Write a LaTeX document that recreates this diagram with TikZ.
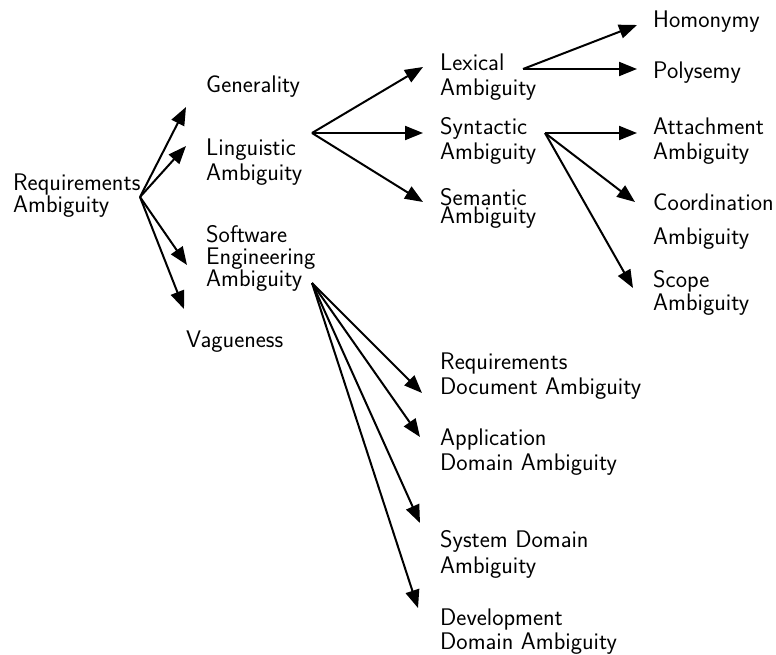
\documentclass[tikz,border=0pt]{standalone}
\usetikzlibrary{arrows.meta}
\begin{document}
\begin{tikzpicture}[x=1pt,y=-1pt,
  lbl/.style={anchor=north west,inner sep=0pt,align=left,font=\sffamily\fontsize{24}{25}\selectfont},
  arr/.style={line width=2pt,-{Triangle[length=18pt,width=14pt]}}]
\useasboundingbox (0,0) rectangle (776,655);
\def\off{9.5}
% nodes
\node[lbl,font=\sffamily\fontsize{24}{21}\selectfont] (root) at (13,183-\off) {Requirements\\Ambiguity};
\node[lbl] (gen) at (206,85-\off) {Generality};
\node[lbl] (ling) at (206,148-\off) {Linguistic\\Ambiguity};
\node[lbl,font=\sffamily\fontsize{24}{22}\selectfont] (se) at (206,235-\off) {Software\\Engineering\\Ambiguity};
\node[lbl] (vag) at (186,340-\off) {Vagueness};
\node[lbl] (lex) at (440,63-\off) {Lexical\\Ambiguity};
\node[lbl] (syn) at (440,127-\off) {Syntactic\\Ambiguity};
\node[lbl,font=\sffamily\fontsize{24}{17}\selectfont] (sem) at (440,198-\off) {Semantic\\Ambiguity};
\node[lbl] (hom) at (653,20-\off) {Homonymy};
\node[lbl] (pol) at (653,71-\off) {Polysemy};
\node[lbl] (att) at (653,127-\off) {Attachment\\Ambiguity};
\node[lbl,font=\sffamily\fontsize{24}{34}\selectfont] (coo) at (653,203-\off) {Coordination\\Ambiguity};
\node[lbl,font=\sffamily\fontsize{24}{21}\selectfont] (sco) at (653,280-\off) {Scope\\Ambiguity};
\node[lbl] (rda) at (440,362-\off) {Requirements\\Document Ambiguity};
\node[lbl] (ada) at (440,438-\off) {Application\\Domain Ambiguity};
\node[lbl,font=\sffamily\fontsize{24}{26}\selectfont] (sda) at (440,540-\off) {System Domain\\Ambiguity};
\node[lbl,font=\sffamily\fontsize{24}{24}\selectfont] (dda) at (440,618-\off) {Development\\Domain Ambiguity};
% fan-out points
\coordinate (r0) at (140,197);
\coordinate (l0) at (312,133);
\coordinate (x0) at (523,69);
\coordinate (y0) at (545,133);
\coordinate (s0) at (312,283);
% arrow tips
\coordinate (tgen) at (186,107);
\coordinate (tling) at (186,146);
\coordinate (tse) at (187,265);
\coordinate (tvag) at (184,309);
\coordinate (tlex) at (423,67);
\coordinate (tsyn) at (423,133);
\coordinate (tsem) at (423,202);
\coordinate (thom) at (637,25);
\coordinate (tpol) at (637,69);
\coordinate (tatt) at (637,133);
\coordinate (tcoo) at (635,202);
\coordinate (tsco) at (633,288);
\coordinate (trda) at (422,393);
\coordinate (tada) at (420,437);
\coordinate (tsda) at (420,523);
\coordinate (tdda) at (418,608);
% connectors
\foreach \t in {tgen,tling,tse,tvag} \draw[arr] (r0) -- (\t);
\foreach \t in {tlex,tsyn,tsem} \draw[arr] (l0) -- (\t);
\foreach \t in {thom,tpol} \draw[arr] (x0) -- (\t);
\foreach \t in {tatt,tcoo,tsco} \draw[arr] (y0) -- (\t);
\foreach \t in {trda,tada,tsda,tdda} \draw[arr] (s0) -- (\t);
\end{tikzpicture}
\end{document}
